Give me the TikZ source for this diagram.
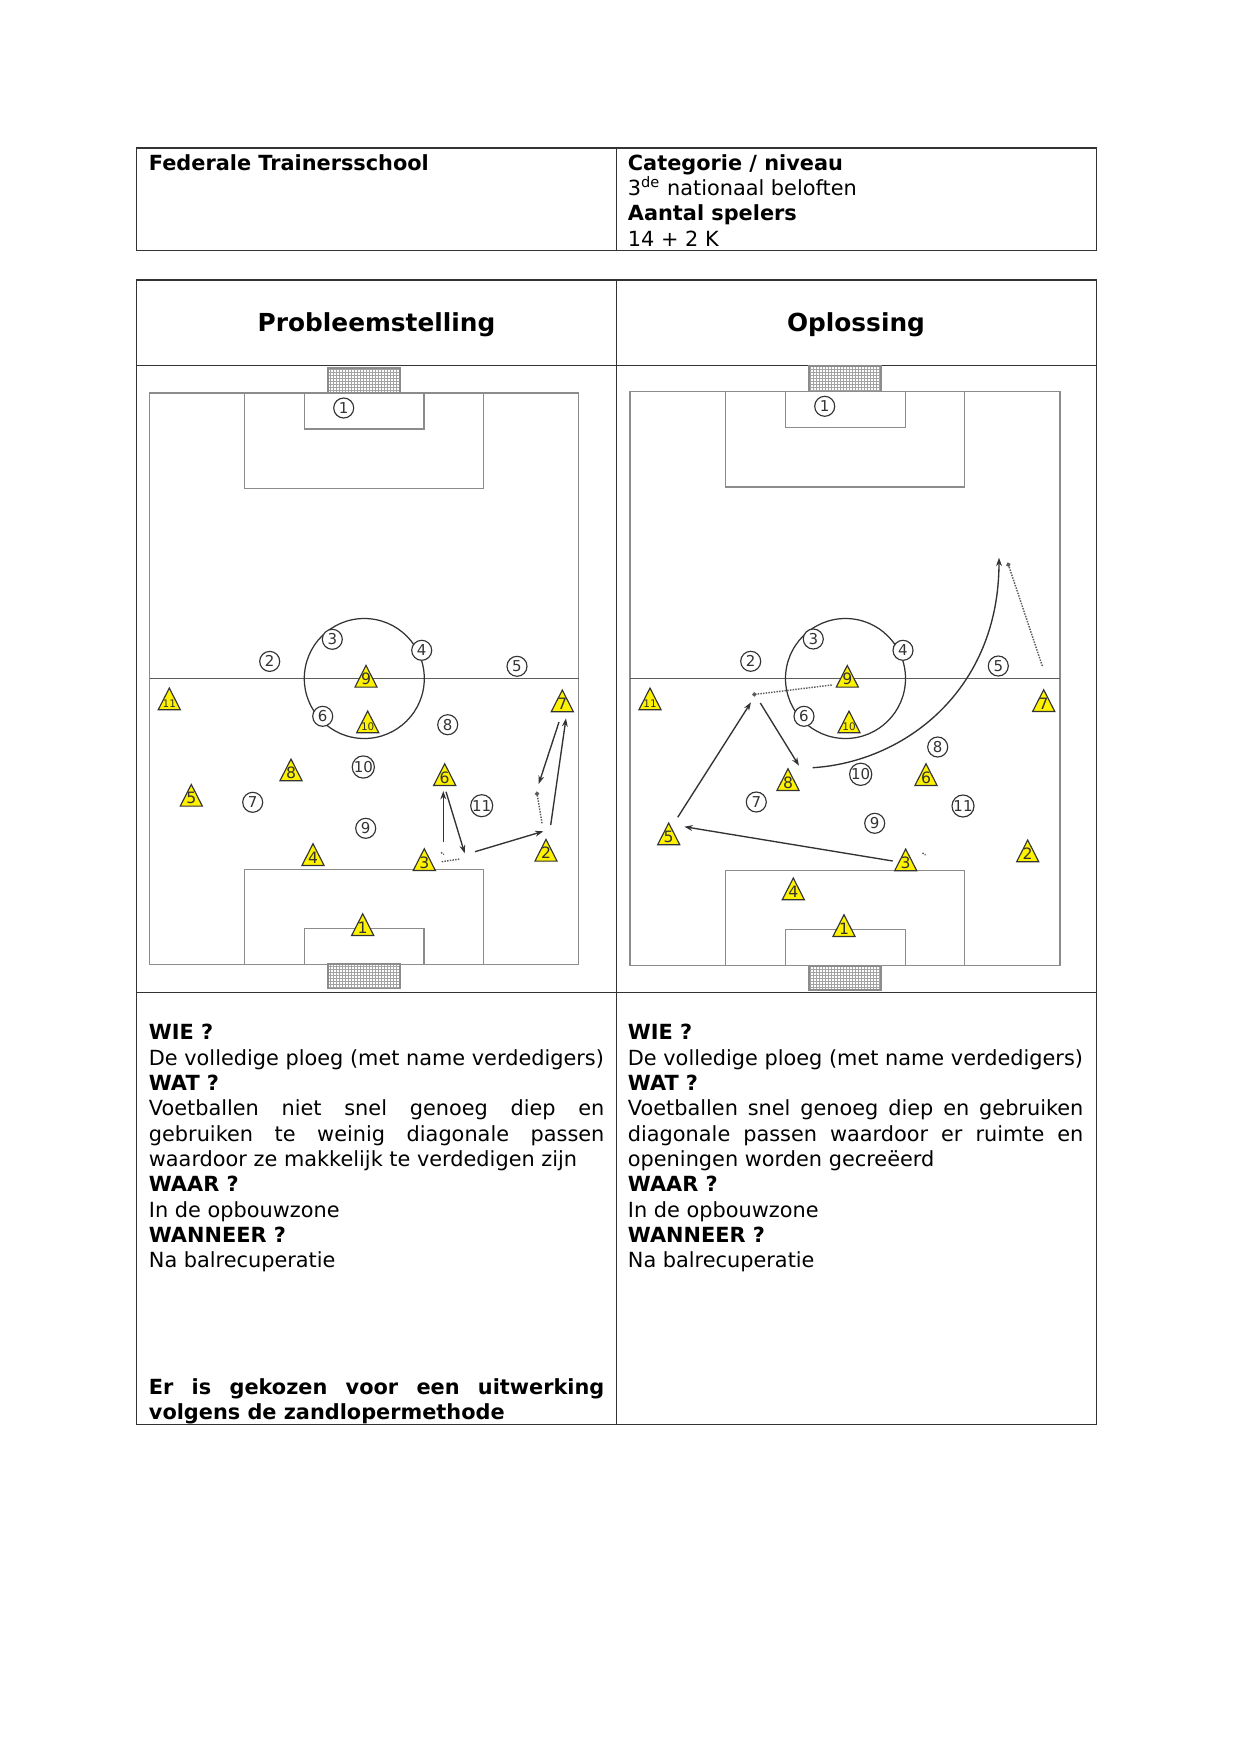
\documentclass[tikz,border=0pt]{standalone}
\usepackage{fontspec}
\setmainfont{DejaVu Sans}
\usetikzlibrary{shapes.geometric,arrows.meta}
\definecolor{lijn}{HTML}{8C8C8C}
\definecolor{donker}{HTML}{333333}
\newcommand{\nummer}[1]{\smash{\raisebox{-2.2pt}{\makebox[0pt]{#1}}}}
\tikzset{
    cel/.style={draw=black!80, line width=0.55pt},
    veld/.style={draw=lijn, line width=0.8pt},
    net/.style={draw=lijn!80, line width=0.2pt, step=1.44pt},
    cirkel/.style={circle, draw=donker, fill=white, line width=0.55pt, minimum size=9.6pt, inner sep=0pt, font=\fontsize{7.2}{7}\selectfont, text=donker},
    geel/.style={isosceles triangle, isosceles triangle stretches, shape border rotate=90, minimum width=10.6pt, minimum height=10.4pt, inner sep=0pt, anchor=lower side, draw=donker, fill=yellow, line width=0.55pt, font=\fontsize{7.5}{7}\selectfont, text=donker},
    klein/.style={geel, font=\fontsize{5}{5}\selectfont},
    pass/.style={draw=donker, line width=0.65pt, -{Stealth[length=4pt,width=2.8pt]}},
    bal/.style={draw=donker!80, line width=0.7pt, dash pattern=on 0.7pt off 0.6pt},
    tekst/.style={anchor=north west, inner sep=0pt, text width=218.5pt, align=justify, font=\fontsize{10}{12.14}\selectfont,
        execute at begin node={\hyphenpenalty=10000 \tolerance=9999}},
    kop/.style={font=\fontsize{11.9}{14}\selectfont\bfseries}
}

\begin{document}
\begin{tikzpicture}[x=0.4797pt, y=-0.4797pt]
    \useasboundingbox (0,0) rectangle (1241,1754);

    % tabellen
    \draw[cel] (136.5,148) rectangle (1096.5,250.5);
    \draw[cel] (616.5,148) -- (616.5,250.5);
    \draw[cel] (136.5,280) rectangle (1096.5,1424.5);
    \draw[cel] (616.5,280) -- (616.5,1424.5);
    \draw[cel] (136.5,365.5) -- (1096.5,365.5);
    \draw[cel] (136.5,992.5) -- (1096.5,992.5);

    \node[tekst] (school) at (148.5,154) {\textbf{Federale Trainersschool}};
    \node[tekst] (categorie) at (627.5,154) {\textbf{Categorie / niveau}\\
        3\textsuperscript{de} nationaal beloften\\
        \textbf{Aantal spelers}\\
        14 + 2 K};
    \node[kop] (probleem) at (376.5,324.5) {Probleemstelling};
    \node[kop] (oplossing) at (856,324.5) {Oplossing};

    \node[tekst] (links) at (148.5,1024) {\textbf{WIE ?}\\
        De volledige ploeg (met name verdedigers)\\
        \textbf{WAT ?}\\
        Voetballen niet snel genoeg diep en gebruiken te weinig diagonale passen waardoor ze makkelijk te verdedigen zijn\\
        \textbf{WAAR ?}\\
        In de opbouwzone\\
        \textbf{WANNEER ?}\\
        Na balrecuperatie};
    \node[tekst] (keuze) at (148.5,1378) {\textbf{Er is gekozen voor een uitwerking volgens de zandlopermethode}};
    \node[tekst] (rechts) at (627.5,1024) {\textbf{WIE ?}\\
        De volledige ploeg (met name verdedigers)\\
        \textbf{WAT ?}\\
        Voetballen snel genoeg diep en gebruiken diagonale passen waardoor er ruimte en openingen worden gecreëerd\\
        \textbf{WAAR ?}\\
        In de opbouwzone\\
        \textbf{WANNEER ?}\\
        Na balrecuperatie};

    % veld links
    \draw[net] (328,368) grid (400,393);
    \draw[net] (328,964) grid (400,988.5);
    \draw[veld] (328,368) rectangle (400,393);
    \draw[veld] (328,964) rectangle (400,988.5);
    \draw[veld] (149.5,393) rectangle (578.5,964.5);
    \draw[veld] (244.5,393) rectangle (483.5,488.5);
    \draw[veld] (304.5,393) rectangle (424,429);
    \draw[veld] (244.5,869.5) rectangle (483.5,964.5);
    \draw[veld] (304.5,928.5) rectangle (424,964.5);
    \draw[veld, draw=donker!80] (149.5,678.5) -- (578.5,678.5);
    \draw[donker, line width=0.6pt] (364.3,678.5) circle (60);

    \node[cirkel] (l-c1) at (343.7,408) {1};
    \node[cirkel] (l-c2) at (269.7,661.4) {2};
    \node[cirkel] (l-c3) at (332.3,639.3) {3};
    \node[cirkel] (l-c4) at (421.7,650.3) {4};
    \node[cirkel] (l-c5) at (517,666.3) {5};
    \node[cirkel] (l-c6) at (322.7,716.3) {6};
    \node[cirkel] (l-c7) at (252.7,802.3) {7};
    \node[cirkel] (l-c8) at (447.7,724.7) {8};
    \node[cirkel] (l-c9) at (365.7,828.3) {9};
    \node[cirkel] (l-c10) at (363.3,767) {10};
    \node[cirkel] (l-c11) at (481.7,805.7) {11};

    \node[geel] (l-t1) at (362.7,936) {\nummer{1}};
    \node[geel] (l-t2) at (546,861.7) {\nummer{2}};
    \node[geel] (l-t3) at (424.3,871) {\nummer{3}};
    \node[geel] (l-t4) at (313,866) {\nummer{4}};
    \node[geel] (l-t5) at (191.3,806.7) {\nummer{5}};
    \node[geel] (l-t6) at (444.7,786) {\nummer{6}};
    \node[geel] (l-t7) at (562.3,712.3) {\nummer{7}};
    \node[geel] (l-t8) at (291,781.3) {\nummer{8}};
    \node[geel] (l-t9) at (366,687.7) {\nummer{9}};
    \node[klein] (l-t10) at (367.7,733.3) {\nummer{10}};
    \node[klein] (l-t11) at (169.3,710.3) {\nummer{11}};

    \coordinate (l-a1) at (443.3,842.3);
    \coordinate (l-a2) at (443.3,791);
    \coordinate (l-a3) at (446,791.7);
    \coordinate (l-a4) at (464.7,853.3);
    \coordinate (l-a5) at (475,851.7);
    \coordinate (l-a6) at (543.3,831.3);
    \coordinate (l-a7) at (550.7,825);
    \coordinate (l-a8) at (566,718.3);
    \coordinate (l-a9) at (559,722);
    \coordinate (l-a10) at (538.7,784);
    \coordinate (l-b1) at (542,823.3);
    \coordinate (l-b2) at (536.7,791.7);
    \coordinate (l-b3) at (441.7,861.7);
    \coordinate (l-b4) at (460,859);
    \coordinate (l-b5) at (441,852.5);
    \coordinate (l-b6) at (444,854.5);

    \draw[pass] (l-a1) -- (l-a2);
    \draw[pass] (l-a3) -- (l-a4);
    \draw[pass] (l-a5) -- (l-a6);
    \draw[pass] (l-a7) -- (l-a8);
    \draw[pass] (l-a9) -- (l-a10);
    \draw[bal, -{Circle[length=2pt]}] (l-b1) -- (l-b2);
    \draw[bal] (l-b3) -- (l-b4);
    \draw[bal] (l-b5) -- (l-b6);

    % veld rechts
    \draw[net] (809,366) grid (881,391.5);
    \draw[net] (809,966) grid (881,990);
    \draw[veld] (809,366) rectangle (881,391.5);
    \draw[veld] (809,966) rectangle (881,990);
    \draw[veld] (630,391.5) rectangle (1060,965.5);
    \draw[veld] (725.5,391.5) rectangle (964.5,487);
    \draw[veld] (785.5,391.5) rectangle (905.5,427.5);
    \draw[veld] (725.5,870.5) rectangle (964.5,965.5);
    \draw[veld] (785.5,929.5) rectangle (905.5,965.5);
    \draw[veld, draw=donker!80] (630,678.5) -- (1060,678.5);
    \draw[donker, line width=0.6pt] (845.5,678.5) circle (60);

    \node[cirkel] (r-c1) at (824.7,406.3) {1};
    \node[cirkel] (r-c2) at (750.7,661.3) {2};
    \node[cirkel] (r-c3) at (813.3,639) {3};
    \node[cirkel] (r-c4) at (903,650.3) {4};
    \node[cirkel] (r-c5) at (998.3,666) {5};
    \node[cirkel] (r-c6) at (804,716.3) {6};
    \node[cirkel] (r-c7) at (756.3,802) {7};
    \node[cirkel] (r-c8) at (937.7,747) {8};
    \node[cirkel] (r-c9) at (874.7,823.3) {9};
    \node[cirkel] (r-c10) at (860.7,774.3) {10};
    \node[cirkel] (r-c11) at (963,806) {11};

    \node[geel] (r-t1) at (844,937) {\nummer{1}};
    \node[geel] (r-t2) at (1027.7,862.3) {\nummer{2}};
    \node[geel] (r-t3) at (905.7,871.3) {\nummer{3}};
    \node[geel] (r-t4) at (793.3,900.3) {\nummer{4}};
    \node[geel] (r-t5) at (668.7,845.3) {\nummer{5}};
    \node[geel] (r-t6) at (926,786) {\nummer{6}};
    \node[geel] (r-t7) at (1043.7,712) {\nummer{7}};
    \node[geel] (r-t8) at (788,791) {\nummer{8}};
    \node[geel] (r-t9) at (847.3,687.7) {\nummer{9}};
    \node[klein] (r-t10) at (849,733.3) {\nummer{10}};
    \node[klein] (r-t11) at (650,710.3) {\nummer{11}};

    \coordinate (r-a1) at (892.7,861);
    \coordinate (r-a2) at (684.3,826.7);
    \coordinate (r-a3) at (677.7,817.3);
    \coordinate (r-a4) at (751,702.3);
    \coordinate (r-a5) at (760.3,703);
    \coordinate (r-a6) at (799,765.7);
    \coordinate (r-a7) at (812.7,767.7);
    \coordinate (r-a8) at (999,557.7);
    \coordinate (r-b1) at (831.7,685);
    \coordinate (r-b2) at (752.3,694.7);
    \coordinate (r-b3) at (1042.3,666);
    \coordinate (r-b4) at (1007.7,562.7);
    \coordinate (r-b5) at (922.5,853);
    \coordinate (r-b6) at (925.5,855);

    \draw[pass] (r-a1) -- (r-a2);
    \draw[pass] (r-a3) -- (r-a4);
    \draw[pass] (r-a5) -- (r-a6);
    \draw[pass] (r-a7) .. controls (905,762) and (999,690) .. (r-a8);
    \draw[bal, -{Circle[length=2pt]}] (r-b1) -- (r-b2);
    \draw[bal, -{Circle[length=2pt]}] (r-b3) -- (r-b4);
    \draw[bal] (r-b5) -- (r-b6);
\end{tikzpicture}
\end{document}
